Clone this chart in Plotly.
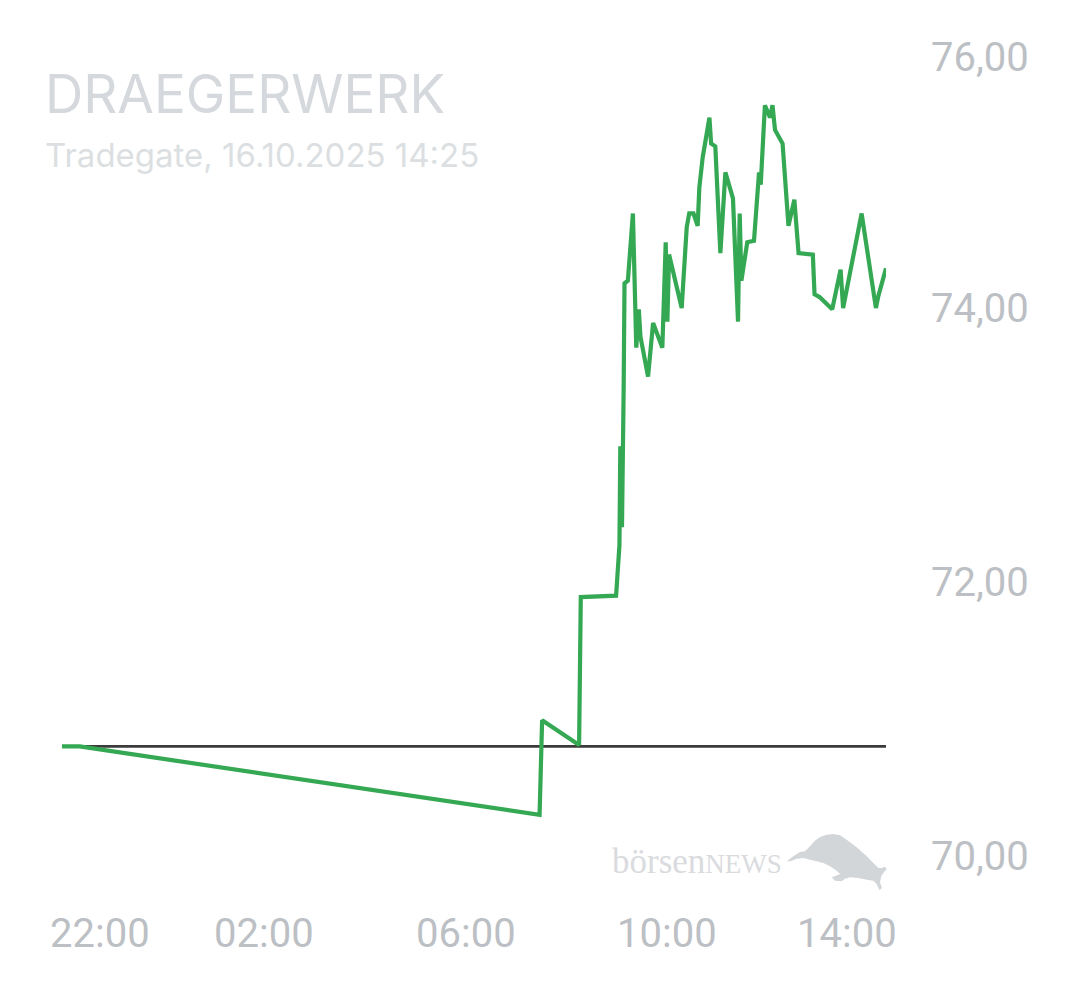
import plotly.graph_objects as go

# price data (Tradegate, 15./16.10.2025)
times = [
    "2025-10-15 22:00", "2025-10-15 22:21", "2025-10-16 07:28", "2025-10-16 07:31",
    "2025-10-16 08:15", "2025-10-16 08:17", "2025-10-16 08:59", "2025-10-16 09:03",
    "2025-10-16 09:04", "2025-10-16 09:06", "2025-10-16 09:08", "2025-10-16 09:09",
    "2025-10-16 09:13", "2025-10-16 09:14", "2025-10-16 09:19", "2025-10-16 09:23",
    "2025-10-16 09:26", "2025-10-16 09:28", "2025-10-16 09:37", "2025-10-16 09:43",
    "2025-10-16 09:54", "2025-10-16 09:58", "2025-10-16 10:00", "2025-10-16 10:02",
    "2025-10-16 10:17", "2025-10-16 10:23", "2025-10-16 10:26", "2025-10-16 10:31",
    "2025-10-16 10:36", "2025-10-16 10:38", "2025-10-16 10:42", "2025-10-16 10:50",
    "2025-10-16 10:52", "2025-10-16 10:57", "2025-10-16 11:03", "2025-10-16 11:09",
    "2025-10-16 11:18", "2025-10-16 11:24", "2025-10-16 11:26", "2025-10-16 11:28",
    "2025-10-16 11:35", "2025-10-16 11:43", "2025-10-16 11:49", "2025-10-16 11:51",
    "2025-10-16 11:56", "2025-10-16 12:02", "2025-10-16 12:05", "2025-10-16 12:08",
    "2025-10-16 12:17", "2025-10-16 12:24", "2025-10-16 12:31", "2025-10-16 12:36",
    "2025-10-16 12:53", "2025-10-16 12:55", "2025-10-16 13:01", "2025-10-16 13:16",
    "2025-10-16 13:26", "2025-10-16 13:29", "2025-10-16 13:42", "2025-10-16 13:51",
    "2025-10-16 14:08", "2025-10-16 14:11", "2025-10-16 14:20",
]
prices = [
    70.80, 70.80, 70.30, 70.99, 70.81, 71.89, 71.90, 72.27, 72.99, 72.40,
    73.42, 74.18, 74.20, 74.29, 74.69, 73.71, 73.99, 73.79, 73.50, 73.89,
    73.71, 74.48, 73.90, 74.39, 74.00, 74.59, 74.69, 74.69, 74.60, 74.88,
    75.10, 75.39, 75.20, 75.18, 74.40, 74.99, 74.80, 73.90, 74.69, 74.20,
    74.48, 74.49, 74.99, 74.90, 75.48, 75.39, 75.48, 75.30, 75.20, 74.60,
    74.79, 74.40, 74.39, 74.10, 74.08, 73.99, 74.28, 74.00, 74.39, 74.69,
    74.00, 74.09, 74.29,
]
prev_close = 70.80

x_tick_vals = ["2025-10-15 22:00", "2025-10-16 02:00", "2025-10-16 06:00",
               "2025-10-16 10:00", "2025-10-16 14:00"]
x_tick_text = ["22:00", "02:00", "06:00", "10:00", "14:00"]
y_tick_vals = [70, 72, 74, 76]
y_tick_text = ["70,00", "72,00", "74,00", "76,00"]

title = "DRAEGERWERK"
subtitle = "Tradegate, 16.10.2025 14:25"

# rough outline of the boersenNEWS bull logo, in screen pixels
bull = [(786.7, 861.3), (793.3, 856.3), (800, 852), (805, 851.3), (810, 846.3),
        (815, 840.7), (820, 837), (826.7, 834.7), (833.3, 834), (840, 835.3),
        (846.7, 839.7), (856.7, 847.3), (866.7, 856.3), (873.3, 863), (878.3, 868),
        (881.7, 868), (885, 866.7), (886.7, 869.3), (884, 872), (881.3, 876.3),
        (880, 882), (882, 888), (879.3, 890), (876.7, 884), (873.3, 880.7),
        (866.7, 879.7), (858.3, 878), (850, 877.3), (845, 878.7), (841.7, 881.3),
        (835, 880.7), (831.7, 877.3), (836, 875.7), (840, 874), (836.7, 870.7),
        (830, 866.3), (823.3, 863), (816.7, 861.3), (810, 859.7), (803.3, 858),
        (796.7, 858.7), (790.7, 861.3)]

W, H = 1080, 990
OFF = 8  # page body margin of the html page
L, T = 62 - OFF, 10 - OFF
R, B = W - (886 - OFF), H - (880 - OFF)
PW, PH = W - L - R, H - T - B


def px(x):
    return (x - OFF - L) / PW


def py(y):
    return (H - B - (y - OFF)) / PH


GREY = "#bcbfc4"
TICKFONT = dict(family="Roboto", size=40, color=GREY)

fig = go.Figure()
fig.add_trace(go.Scatter(
    x=[times[0], times[-1]], y=[prev_close, prev_close], mode="lines",
    line=dict(color="#3b3b3b", width=2.8), hoverinfo="skip"))
fig.add_trace(go.Scatter(
    x=times, y=prices, mode="lines",
    line=dict(color="#34a853", width=4.2)))

annotations = []
for v, t in zip(y_tick_vals, y_tick_text):
    annotations.append(dict(
        x=1, xref="paper", y=v, yref="y", text=t, showarrow=False,
        xanchor="center", yanchor="middle", xshift=94,
        yshift=-23 if v == 76 else 0, font=TICKFONT))
for i, (v, t) in enumerate(zip(x_tick_vals, x_tick_text)):
    shift = 0
    if i == 0:
        shift = 38
    elif i == len(x_tick_vals) - 1:
        shift = -22
    annotations.append(dict(
        x=v, xref="x", y=0, yref="paper", text=t, showarrow=False,
        xanchor="center", yanchor="middle", xshift=shift, yshift=-53,
        font=TICKFONT))

annotations.append(dict(
    x=px(43), y=py(94), xref="paper", yref="paper", text=title,
    showarrow=False, xanchor="left", yanchor="middle",
    font=dict(family="Inter", size=53, color="#d5d8dc")))
annotations.append(dict(
    x=px(43), y=py(155), xref="paper", yref="paper", text=subtitle,
    showarrow=False, xanchor="left", yanchor="middle",
    font=dict(family="Inter", size=33, color="#dcdfe2")))
annotations.append(dict(
    x=px(784), y=py(883), xref="paper", yref="paper",
    text="börsen<span style='font-size:27px'>NEWS</span>",
    showarrow=False, xanchor="right", yanchor="bottom",
    font=dict(family="Liberation Serif", size=35, color="#d9dbde")))

path = "M " + " L ".join(f"{px(x):.4f},{py(y):.4f}" for x, y in bull) + " Z"

fig.update_layout(
    width=W, height=H,
    margin=dict(l=L, r=R, t=T, b=B),
    paper_bgcolor="white", plot_bgcolor="white",
    showlegend=False,
    xaxis=dict(range=[times[0], times[-1]], showgrid=False, zeroline=False,
               showticklabels=False, showline=False),
    yaxis=dict(range=[70 - 24 / 137, 70 + 846 / 137], showgrid=False,
               zeroline=False, showticklabels=False, showline=False),
    annotations=annotations,
    shapes=[dict(type="path", path=path, xref="paper", yref="paper",
                 fillcolor="#d3d6d9", line=dict(width=0), layer="below")],
)

fig.write_html("out.html")
